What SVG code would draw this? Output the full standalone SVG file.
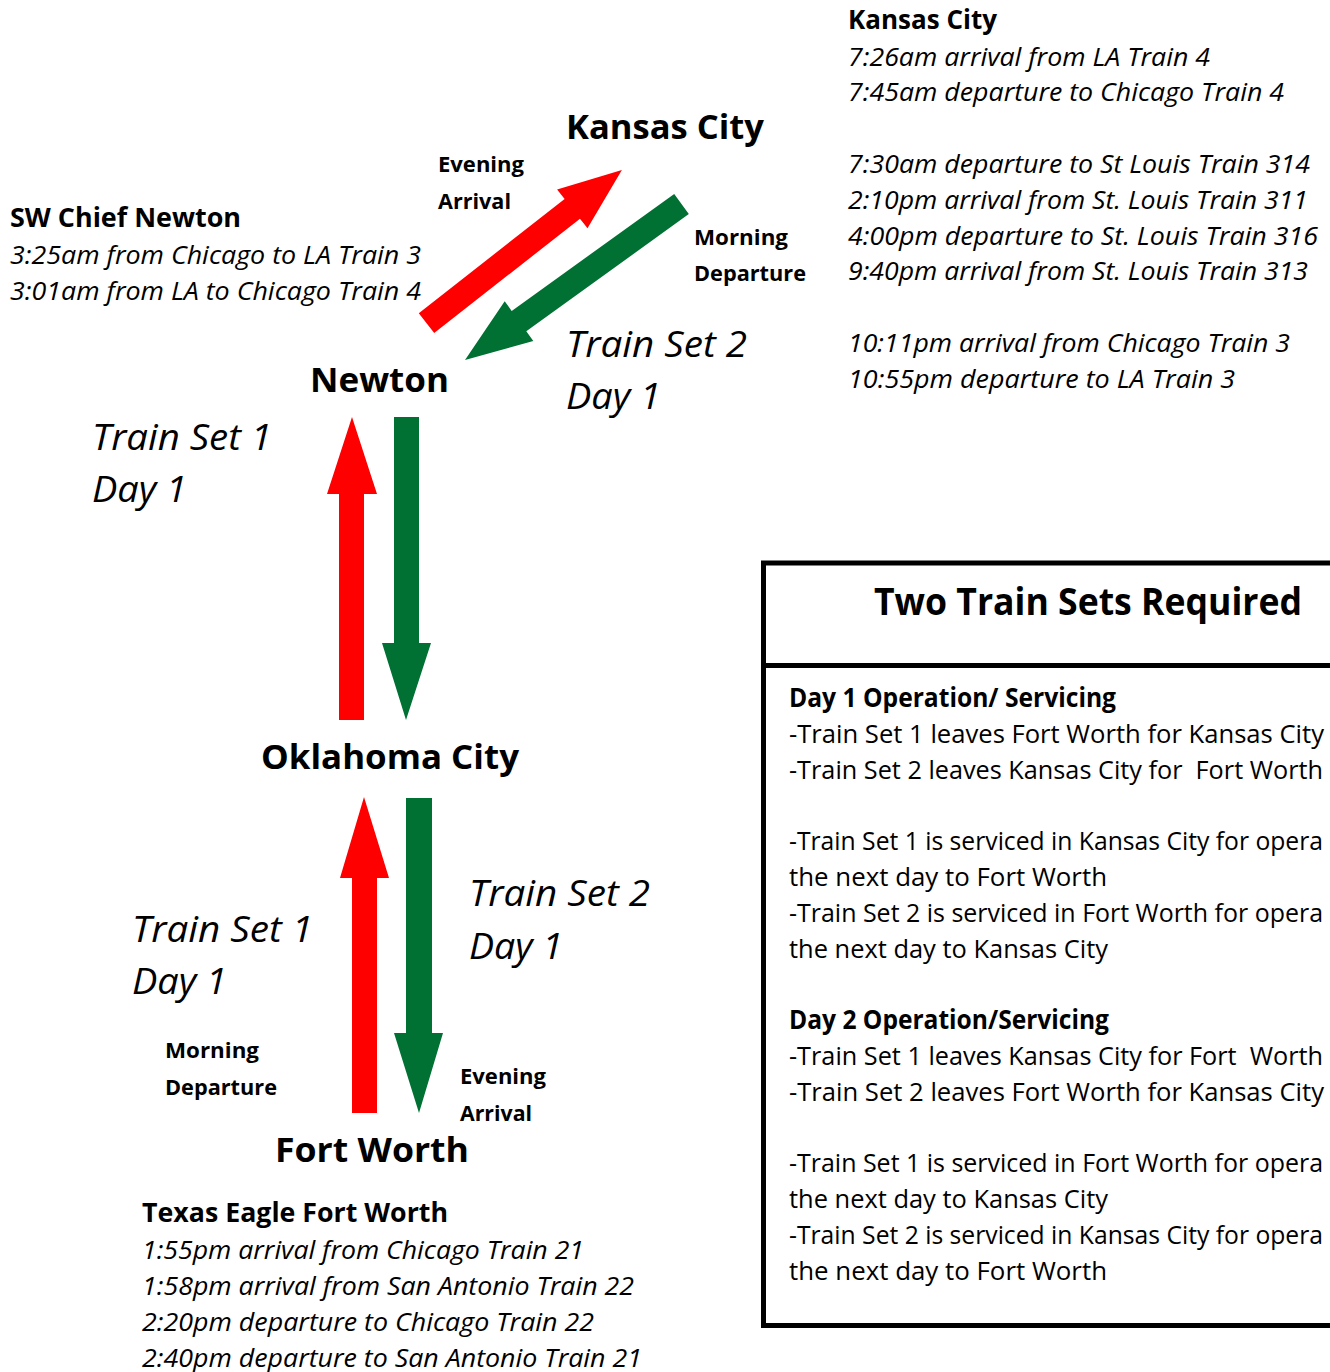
<svg xmlns="http://www.w3.org/2000/svg" width="1330" height="1372" viewBox="0 0 1330 1372">
<style>
text{font-family:"Open Sans","Noto Sans","DejaVu Sans",sans-serif;fill:#000}
.sch{font-size:25.5px;font-style:italic}
.hd{font-size:26px;font-weight:bold}
.city{font-size:34px;font-weight:bold}
.ts{font-size:37px;font-style:italic}
.lbl{font-size:22px;font-weight:bold}
.box{font-size:26px}
.pre{white-space:pre}
.boxhd{font-size:26px;font-weight:bold}
.title{font-size:37px;font-weight:bold}
.red{fill:#FF0000}
.grn{fill:#007033}
</style>
<rect width="1330" height="1372" fill="#fff"/>
<g id="connectors">
<polygon class="red" points="418.8,313.2 564.6,199.0 557.1,189.5 621.9,170.0 587.5,228.3 580.0,218.8 434.2,332.9"/>
<polygon class="grn" points="674.2,193.9 511.7,311.0 504.7,301.2 465,360 533.3,341.0 526.3,331.2 688.8,214.1"/>
<polygon class="red" points="339,720 339,494 327,494 352,417 377,494 364,494 364,720"/>
<polygon class="grn" points="394,417 419,417 419,643 431,643 406,720 382,643 394,643"/>
<polygon class="red" points="352,1113 352,878 340,878 364,797 389,878 377,878 377,1113"/>
<polygon class="grn" points="406,798 432,798 432,1033 443,1033 419,1113 394,1033 406,1033"/>
</g>
<g id="kansas-city">
<text class="city" x="566" y="139" textLength="198" lengthAdjust="spacingAndGlyphs">Kansas City</text>
</g>
<g id="newton">
<text class="city" x="310" y="392" textLength="139" lengthAdjust="spacingAndGlyphs">Newton</text>
</g>
<g id="oklahoma-city">
<text class="city" x="261" y="769" textLength="258" lengthAdjust="spacingAndGlyphs">Oklahoma City</text>
</g>
<g id="fort-worth">
<text class="city" x="275" y="1162" textLength="194" lengthAdjust="spacingAndGlyphs">Fort Worth</text>
</g>
<g id="labels">
<text class="lbl" x="438" y="172" textLength="86" lengthAdjust="spacingAndGlyphs">Evening</text>
<text class="lbl" x="438" y="209" textLength="73" lengthAdjust="spacingAndGlyphs">Arrival</text>
<text class="lbl" x="694" y="245" textLength="94" lengthAdjust="spacingAndGlyphs">Morning</text>
<text class="lbl" x="694" y="281" textLength="112" lengthAdjust="spacingAndGlyphs">Departure</text>
<text class="lbl" x="165" y="1058" textLength="94" lengthAdjust="spacingAndGlyphs">Morning</text>
<text class="lbl" x="165" y="1095" textLength="112" lengthAdjust="spacingAndGlyphs">Departure</text>
<text class="lbl" x="460" y="1084" textLength="86" lengthAdjust="spacingAndGlyphs">Evening</text>
<text class="lbl" x="460" y="1121" textLength="72" lengthAdjust="spacingAndGlyphs">Arrival</text>
<text class="ts" x="566" y="357" textLength="181" lengthAdjust="spacingAndGlyphs">Train Set 2</text>
<text class="ts" x="566" y="409" textLength="95" lengthAdjust="spacingAndGlyphs">Day 1</text>
<text class="ts" x="92" y="450" textLength="180" lengthAdjust="spacingAndGlyphs">Train Set 1</text>
<text class="ts" x="92" y="502" textLength="95" lengthAdjust="spacingAndGlyphs">Day 1</text>
<text class="ts" x="469" y="906" textLength="181" lengthAdjust="spacingAndGlyphs">Train Set 2</text>
<text class="ts" x="469" y="959" textLength="94" lengthAdjust="spacingAndGlyphs">Day 1</text>
<text class="ts" x="132" y="942" textLength="181" lengthAdjust="spacingAndGlyphs">Train Set 1</text>
<text class="ts" x="132" y="994" textLength="95" lengthAdjust="spacingAndGlyphs">Day 1</text>
</g>
<g id="kc-schedule">
<text class="hd" x="848" y="29" textLength="149" lengthAdjust="spacingAndGlyphs">Kansas City</text>
<text class="sch" x="848" y="66" textLength="362" lengthAdjust="spacingAndGlyphs">7:26am arrival from LA Train 4</text>
<text class="sch" x="848" y="101" textLength="436" lengthAdjust="spacingAndGlyphs">7:45am departure to Chicago Train 4</text>
<text class="sch" x="848" y="173" textLength="462" lengthAdjust="spacingAndGlyphs">7:30am departure to St Louis Train 314</text>
<text class="sch" x="848" y="209" textLength="460" lengthAdjust="spacingAndGlyphs">2:10pm arrival from St. Louis Train 311</text>
<text class="sch" x="848" y="245" textLength="470" lengthAdjust="spacingAndGlyphs">4:00pm departure to St. Louis Train 316</text>
<text class="sch" x="848" y="280" textLength="460" lengthAdjust="spacingAndGlyphs">9:40pm arrival from St. Louis Train 313</text>
<text class="sch" x="848" y="352" textLength="442" lengthAdjust="spacingAndGlyphs">10:11pm arrival from Chicago Train 3</text>
<text class="sch" x="848" y="388" textLength="387" lengthAdjust="spacingAndGlyphs">10:55pm departure to LA Train 3</text>
</g>
<g id="newton-schedule">
<text class="hd" x="10" y="227" textLength="231" lengthAdjust="spacingAndGlyphs">SW Chief Newton</text>
<text class="sch" x="10" y="264" textLength="411" lengthAdjust="spacingAndGlyphs">3:25am from Chicago to LA Train 3</text>
<text class="sch" x="10" y="300" textLength="411" lengthAdjust="spacingAndGlyphs">3:01am from LA to Chicago Train 4</text>
</g>
<g id="fort-worth-schedule">
<text class="hd" x="142" y="1222" textLength="306" lengthAdjust="spacingAndGlyphs">Texas Eagle Fort Worth</text>
<text class="sch" x="142" y="1259" textLength="442" lengthAdjust="spacingAndGlyphs">1:55pm arrival from Chicago Train 21</text>
<text class="sch" x="142" y="1295" textLength="492" lengthAdjust="spacingAndGlyphs">1:58pm arrival from San Antonio Train 22</text>
<text class="sch" x="142" y="1331" textLength="452" lengthAdjust="spacingAndGlyphs">2:20pm departure to Chicago Train 22</text>
<text class="sch" x="142" y="1367" textLength="500" lengthAdjust="spacingAndGlyphs">2:40pm departure to San Antonio Train 21</text>
</g>
<g id="train-sets-box">
<rect x="763.5" y="563" width="600" height="762.5" fill="none" stroke="#000" stroke-width="5"/>
<line x1="763.5" y1="665.5" x2="1340" y2="665.5" stroke="#000" stroke-width="5"/>
<text class="title" x="874" y="615" textLength="428" lengthAdjust="spacingAndGlyphs">Two Train Sets Required</text>
<text class="boxhd" x="789" y="707" textLength="327" lengthAdjust="spacingAndGlyphs">Day 1 Operation/ Servicing</text>
<text class="box" x="789" y="743" textLength="535" lengthAdjust="spacingAndGlyphs">-Train Set 1 leaves Fort Worth for Kansas City</text>
<text class="box pre" x="789" y="779" textLength="534" lengthAdjust="spacingAndGlyphs">-Train Set 2 leaves Kansas City for  Fort Worth</text>
<text class="box" x="789" y="850" textLength="534" lengthAdjust="spacingAndGlyphs">-Train Set 1 is serviced in Kansas City for opera</text>
<text class="box" x="789" y="886" textLength="318" lengthAdjust="spacingAndGlyphs">the next day to Fort Worth</text>
<text class="box" x="789" y="922" textLength="534" lengthAdjust="spacingAndGlyphs">-Train Set 2 is serviced in Fort Worth for opera</text>
<text class="box" x="789" y="958" textLength="319" lengthAdjust="spacingAndGlyphs">the next day to Kansas City</text>
<text class="boxhd" x="789" y="1029" textLength="320" lengthAdjust="spacingAndGlyphs">Day 2 Operation/Servicing</text>
<text class="box pre" x="789" y="1065" textLength="534" lengthAdjust="spacingAndGlyphs">-Train Set 1 leaves Kansas City for Fort  Worth</text>
<text class="box" x="789" y="1101" textLength="535" lengthAdjust="spacingAndGlyphs">-Train Set 2 leaves Fort Worth for Kansas City</text>
<text class="box" x="789" y="1172" textLength="534" lengthAdjust="spacingAndGlyphs">-Train Set 1 is serviced in Fort Worth for opera</text>
<text class="box" x="789" y="1208" textLength="319" lengthAdjust="spacingAndGlyphs">the next day to Kansas City</text>
<text class="box" x="789" y="1244" textLength="534" lengthAdjust="spacingAndGlyphs">-Train Set 2 is serviced in Kansas City for opera</text>
<text class="box" x="789" y="1280" textLength="318" lengthAdjust="spacingAndGlyphs">the next day to Fort Worth</text>
</g>
</svg>
